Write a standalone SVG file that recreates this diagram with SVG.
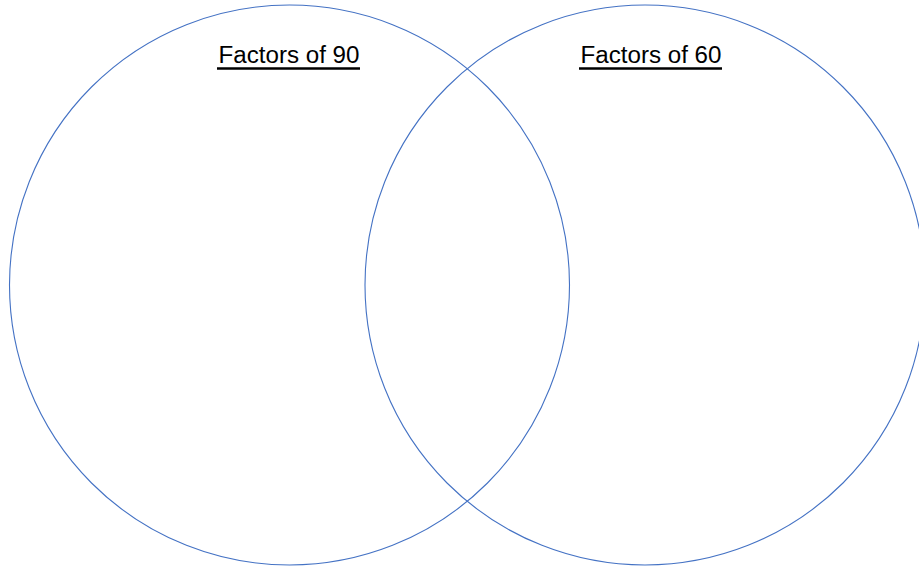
<svg xmlns="http://www.w3.org/2000/svg" width="919" height="566" viewBox="0 0 919 566">
<style>
.c{fill:none;stroke:#4472C4;stroke-width:1.1}
.t{font-family:"Liberation Sans",Arial,sans-serif;font-size:23.5px;fill:#000;text-anchor:middle}
.u{stroke:#000;stroke-width:2.6}
</style>
<rect width="919" height="566" fill="#fff"/>
<g id="left">
<circle class="c" cx="289.5" cy="285" r="280"/>
<text class="t" x="289" y="63" textLength="141" lengthAdjust="spacingAndGlyphs">Factors of 90</text>
<line class="u" x1="217" y1="68.5" x2="360" y2="68.5"/>
</g>
<g id="right">
<circle class="c" cx="645" cy="285" r="280"/>
<text class="t" x="651" y="63" textLength="141" lengthAdjust="spacingAndGlyphs">Factors of 60</text>
<line class="u" x1="579" y1="68.5" x2="722" y2="68.5"/>
</g>
<g id="connectors"/>
</svg>
